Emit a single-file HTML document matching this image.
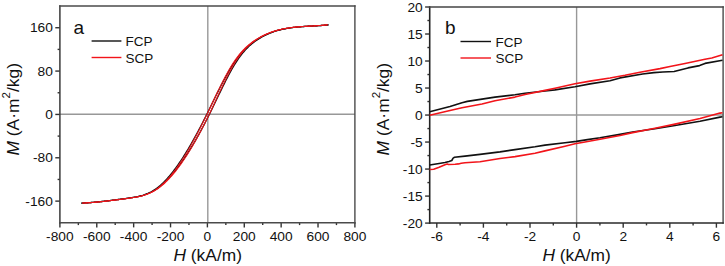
<!DOCTYPE html>
<html><head><meta charset="utf-8"><style>
html,body{margin:0;padding:0;background:#fff;}
svg{display:block;}
text{font-family:"Liberation Sans", sans-serif;fill:#111;}
.tk{font-size:13.5px;}
.lg{font-size:13.5px;}
.pl{font-size:19px;}
.tt{font-size:16px;}
</style></head><body>
<svg width="725" height="266" viewBox="0 0 725 266">
<rect width="725" height="266" fill="#fff"/>
<line x1="59.90" y1="114.20" x2="354.90" y2="114.20" stroke="#989898" stroke-width="1.4"/>
<line x1="207.80" y1="6.05" x2="207.80" y2="222.80" stroke="#989898" stroke-width="1.4"/>
<line x1="59.90" y1="222.80" x2="59.90" y2="227.40" stroke="#333" stroke-width="1.4"/>
<line x1="96.78" y1="222.80" x2="96.78" y2="227.40" stroke="#333" stroke-width="1.4"/>
<line x1="133.65" y1="222.80" x2="133.65" y2="227.40" stroke="#333" stroke-width="1.4"/>
<line x1="170.53" y1="222.80" x2="170.53" y2="227.40" stroke="#333" stroke-width="1.4"/>
<line x1="207.40" y1="222.80" x2="207.40" y2="227.40" stroke="#333" stroke-width="1.4"/>
<line x1="244.28" y1="222.80" x2="244.28" y2="227.40" stroke="#333" stroke-width="1.4"/>
<line x1="281.15" y1="222.80" x2="281.15" y2="227.40" stroke="#333" stroke-width="1.4"/>
<line x1="318.02" y1="222.80" x2="318.02" y2="227.40" stroke="#333" stroke-width="1.4"/>
<line x1="354.90" y1="222.80" x2="354.90" y2="227.40" stroke="#333" stroke-width="1.4"/>
<line x1="78.34" y1="222.80" x2="78.34" y2="225.10" stroke="#333" stroke-width="1.4"/>
<line x1="115.21" y1="222.80" x2="115.21" y2="225.10" stroke="#333" stroke-width="1.4"/>
<line x1="152.09" y1="222.80" x2="152.09" y2="225.10" stroke="#333" stroke-width="1.4"/>
<line x1="188.96" y1="222.80" x2="188.96" y2="225.10" stroke="#333" stroke-width="1.4"/>
<line x1="225.84" y1="222.80" x2="225.84" y2="225.10" stroke="#333" stroke-width="1.4"/>
<line x1="262.71" y1="222.80" x2="262.71" y2="225.10" stroke="#333" stroke-width="1.4"/>
<line x1="299.59" y1="222.80" x2="299.59" y2="225.10" stroke="#333" stroke-width="1.4"/>
<line x1="336.46" y1="222.80" x2="336.46" y2="225.10" stroke="#333" stroke-width="1.4"/>
<line x1="55.30" y1="27.73" x2="59.90" y2="27.73" stroke="#333" stroke-width="1.4"/>
<line x1="55.30" y1="71.08" x2="59.90" y2="71.08" stroke="#333" stroke-width="1.4"/>
<line x1="55.30" y1="114.43" x2="59.90" y2="114.43" stroke="#333" stroke-width="1.4"/>
<line x1="55.30" y1="157.78" x2="59.90" y2="157.78" stroke="#333" stroke-width="1.4"/>
<line x1="55.30" y1="201.12" x2="59.90" y2="201.12" stroke="#333" stroke-width="1.4"/>
<line x1="57.60" y1="49.40" x2="59.90" y2="49.40" stroke="#333" stroke-width="1.4"/>
<line x1="57.60" y1="92.75" x2="59.90" y2="92.75" stroke="#333" stroke-width="1.4"/>
<line x1="57.60" y1="136.10" x2="59.90" y2="136.10" stroke="#333" stroke-width="1.4"/>
<line x1="57.60" y1="179.45" x2="59.90" y2="179.45" stroke="#333" stroke-width="1.4"/>
<line x1="59.90" y1="5.35" x2="59.90" y2="223.50" stroke="#3a3a3a" stroke-width="1.5"/>
<line x1="354.90" y1="5.35" x2="354.90" y2="223.50" stroke="#4a4a4a" stroke-width="1.4"/>
<line x1="59.20" y1="6.05" x2="355.60" y2="6.05" stroke="#4a4a4a" stroke-width="1.4"/>
<line x1="59.20" y1="222.80" x2="355.60" y2="222.80" stroke="#4a4a4a" stroke-width="1.4"/>
<text transform="translate(59.90,240.80) scale(1.02,1)" text-anchor="middle" class="tk">-800</text>
<text transform="translate(96.78,240.80) scale(1.02,1)" text-anchor="middle" class="tk">-600</text>
<text transform="translate(133.65,240.80) scale(1.02,1)" text-anchor="middle" class="tk">-400</text>
<text transform="translate(170.53,240.80) scale(1.02,1)" text-anchor="middle" class="tk">-200</text>
<text transform="translate(207.40,240.80) scale(1.02,1)" text-anchor="middle" class="tk">0</text>
<text transform="translate(244.28,240.80) scale(1.02,1)" text-anchor="middle" class="tk">200</text>
<text transform="translate(281.15,240.80) scale(1.02,1)" text-anchor="middle" class="tk">400</text>
<text transform="translate(318.02,240.80) scale(1.02,1)" text-anchor="middle" class="tk">600</text>
<text transform="translate(354.90,240.80) scale(1.02,1)" text-anchor="middle" class="tk">800</text>
<text transform="translate(52.90,32.23) scale(1.02,1)" text-anchor="end" class="tk">160</text>
<text transform="translate(52.90,75.58) scale(1.02,1)" text-anchor="end" class="tk">80</text>
<text transform="translate(52.90,118.93) scale(1.02,1)" text-anchor="end" class="tk">0</text>
<text transform="translate(52.90,162.28) scale(1.02,1)" text-anchor="end" class="tk">-80</text>
<text transform="translate(52.90,205.62) scale(1.02,1)" text-anchor="end" class="tk">-160</text>
<path d="M81.14,203.11 L81.96,203.07 L82.78,203.03 L83.60,202.99 L84.42,202.94 L85.24,202.89 L86.06,202.84 L86.88,202.79 L87.70,202.74 L88.52,202.68 L89.34,202.62 L90.16,202.56 L90.98,202.49 L91.81,202.43 L92.63,202.36 L93.45,202.29 L94.27,202.22 L95.09,202.14 L95.91,202.07 L96.73,201.99 L97.55,201.91 L98.37,201.83 L99.19,201.75 L100.01,201.67 L100.83,201.58 L101.65,201.49 L102.47,201.40 L103.29,201.31 L104.11,201.22 L104.93,201.13 L105.75,201.04 L106.57,200.94 L107.39,200.84 L108.21,200.75 L109.03,200.65 L109.85,200.55 L110.67,200.45 L111.49,200.35 L112.32,200.24 L113.14,200.14 L113.96,200.04 L114.78,199.93 L115.60,199.83 L116.42,199.72 L117.24,199.61 L118.06,199.51 L118.88,199.40 L119.70,199.29 L120.52,199.18 L121.34,199.07 L122.16,198.96 L122.98,198.85 L123.80,198.74 L124.62,198.63 L125.44,198.52 L126.26,198.41 L127.08,198.30 L127.90,198.19 L128.72,198.08 L129.54,197.96 L130.36,197.85 L131.18,197.73 L132.00,197.60 L132.83,197.47 L133.65,197.33 L134.47,197.19 L135.29,197.04 L136.11,196.89 L136.93,196.72 L137.75,196.55 L138.57,196.36 L139.39,196.17 L140.21,195.97 L141.03,195.75 L141.85,195.52 L142.67,195.28 L143.49,195.02 L144.31,194.75 L145.12,194.46 L145.94,194.16 L146.75,193.84 L147.56,193.50 L148.37,193.15 L149.18,192.77 L149.99,192.38 L150.80,191.97 L151.61,191.53 L152.42,191.08 L153.23,190.60 L154.04,190.10 L154.85,189.58 L155.65,189.03 L156.46,188.45 L157.27,187.85 L158.07,187.23 L158.88,186.59 L159.68,185.92 L160.49,185.22 L161.29,184.50 L162.09,183.76 L162.90,183.00 L163.70,182.21 L164.50,181.40 L165.31,180.57 L166.11,179.71 L166.91,178.83 L167.71,177.94 L168.51,177.01 L169.32,176.07 L170.12,175.11 L170.92,174.12 L171.74,173.12 L172.55,172.09 L173.37,171.05 L174.19,169.98 L175.01,168.89 L175.82,167.79 L176.64,166.66 L177.46,165.52 L178.28,164.35 L179.10,163.17 L179.92,161.97 L180.74,160.75 L181.56,159.51 L182.38,158.25 L183.20,156.98 L184.02,155.68 L184.85,154.37 L185.67,153.05 L186.50,151.70 L187.32,150.34 L188.15,148.96 L188.97,147.57 L189.80,146.16 L190.63,144.73 L191.45,143.29 L192.28,141.83 L193.11,140.36 L193.94,138.87 L194.78,137.37 L195.61,135.85 L196.44,134.32 L197.27,132.77 L198.11,131.21 L198.95,129.63 L199.78,128.04 L200.62,126.44 L201.46,124.83 L202.30,123.20 L203.14,121.56 L203.98,119.90 L204.82,118.24 L205.67,116.56 L206.51,114.87 L207.36,113.17 L208.21,111.45 L209.05,109.73 L209.90,108.00 L210.75,106.27 L211.61,104.53 L212.46,102.78 L213.31,101.04 L214.17,99.29 L215.02,97.55 L215.88,95.81 L216.74,94.08 L217.59,92.35 L218.45,90.63 L219.31,88.92 L220.17,87.22 L221.03,85.53 L221.89,83.86 L222.76,82.20 L223.62,80.56 L224.48,78.94 L225.34,77.34 L226.21,75.76 L227.07,74.21 L227.93,72.68 L228.80,71.18 L229.66,69.70 L230.52,68.25 L231.39,66.84 L232.25,65.46 L233.11,64.11 L233.97,62.80 L234.83,61.53 L235.69,60.29 L236.55,59.10 L237.41,57.94 L238.27,56.82 L239.13,55.73 L239.98,54.68 L240.83,53.66 L241.67,52.68 L242.51,51.72 L243.35,50.80 L244.18,49.91 L245.02,49.05 L245.86,48.22 L246.70,47.42 L247.54,46.64 L248.37,45.89 L249.21,45.17 L250.04,44.47 L250.88,43.79 L251.72,43.14 L252.55,42.51 L253.38,41.89 L254.22,41.30 L255.05,40.73 L255.89,40.18 L256.72,39.64 L257.55,39.12 L258.39,38.62 L259.22,38.13 L260.05,37.65 L260.88,37.19 L261.71,36.74 L262.54,36.30 L263.38,35.88 L264.21,35.47 L265.04,35.08 L265.87,34.69 L266.70,34.32 L267.53,33.96 L268.35,33.61 L269.17,33.27 L269.99,32.94 L270.81,32.63 L271.63,32.32 L272.45,32.03 L273.27,31.75 L274.09,31.47 L274.91,31.21 L275.73,30.96 L276.55,30.71 L277.38,30.48 L278.20,30.25 L279.02,30.03 L279.84,29.82 L280.66,29.62 L281.48,29.43 L282.30,29.25 L283.12,29.07 L283.94,28.90 L284.76,28.74 L285.58,28.59 L286.40,28.44 L287.22,28.30 L288.04,28.16 L288.86,28.03 L289.68,27.91 L290.50,27.79 L291.32,27.68 L292.14,27.58 L292.96,27.47 L293.78,27.38 L294.60,27.29 L295.42,27.20 L296.24,27.12 L297.06,27.04 L297.89,26.96 L298.71,26.89 L299.53,26.82 L300.35,26.76 L301.17,26.69 L301.99,26.63 L302.81,26.58 L303.63,26.52 L304.45,26.47 L305.27,26.42 L306.09,26.37 L306.91,26.32 L307.73,26.27 L308.55,26.23 L309.37,26.18 L310.19,26.13 L311.01,26.09 L311.83,26.04 L312.65,26.00 L313.47,25.95 L314.29,25.91 L315.11,25.86 L315.93,25.81 L316.75,25.76 L317.57,25.71 L318.40,25.66 L319.22,25.60 L320.04,25.54 L320.86,25.48 L321.68,25.42 L322.50,25.36 L323.32,25.29 L324.14,25.22 L324.96,25.14 L325.78,25.06 L326.60,24.98 L327.42,24.89 L328.24,24.80" fill="none" stroke="#111" stroke-width="1.3" stroke-linejoin="round"/><path d="M81.66,203.11 L82.48,203.07 L83.30,203.03 L84.12,202.99 L84.94,202.94 L85.76,202.89 L86.58,202.84 L87.40,202.79 L88.22,202.74 L89.04,202.68 L89.86,202.62 L90.68,202.56 L91.50,202.49 L92.33,202.43 L93.15,202.36 L93.97,202.29 L94.79,202.22 L95.61,202.14 L96.43,202.07 L97.25,201.99 L98.07,201.91 L98.89,201.83 L99.71,201.75 L100.53,201.67 L101.35,201.58 L102.17,201.49 L102.99,201.40 L103.81,201.31 L104.63,201.22 L105.45,201.13 L106.27,201.04 L107.09,200.94 L107.91,200.84 L108.73,200.75 L109.55,200.65 L110.37,200.55 L111.19,200.45 L112.01,200.35 L112.84,200.24 L113.66,200.14 L114.48,200.04 L115.30,199.93 L116.12,199.83 L116.94,199.72 L117.76,199.61 L118.58,199.51 L119.40,199.40 L120.22,199.29 L121.04,199.18 L121.86,199.07 L122.68,198.96 L123.50,198.85 L124.32,198.74 L125.14,198.63 L125.96,198.52 L126.78,198.41 L127.60,198.30 L128.42,198.19 L129.24,198.08 L130.06,197.96 L130.88,197.85 L131.70,197.73 L132.52,197.60 L133.35,197.47 L134.17,197.33 L134.99,197.19 L135.81,197.04 L136.63,196.89 L137.45,196.72 L138.27,196.55 L139.09,196.36 L139.91,196.17 L140.73,195.97 L141.55,195.75 L142.37,195.52 L143.19,195.28 L144.01,195.02 L144.83,194.75 L145.66,194.46 L146.49,194.16 L147.32,193.84 L148.15,193.50 L148.98,193.15 L149.80,192.77 L150.64,192.38 L151.47,191.97 L152.30,191.53 L153.13,191.08 L153.96,190.60 L154.79,190.10 L155.63,189.58 L156.46,189.03 L157.29,188.45 L158.13,187.85 L158.96,187.23 L159.80,186.59 L160.64,185.92 L161.47,185.22 L162.31,184.50 L163.15,183.76 L163.98,183.00 L164.82,182.21 L165.66,181.40 L166.50,180.57 L167.34,179.71 L168.17,178.83 L169.01,177.94 L169.85,177.01 L170.69,176.07 L171.53,175.11 L172.37,174.12 L173.23,173.12 L174.08,172.09 L174.94,171.05 L175.79,169.98 L176.65,168.89 L177.51,167.79 L178.36,166.66 L179.22,165.52 L180.07,164.35 L180.93,163.17 L181.79,161.97 L182.65,160.75 L183.50,159.51 L184.36,158.25 L185.22,156.98 L186.07,155.68 L186.93,154.37 L187.79,153.05 L188.65,151.70 L189.50,150.34 L190.36,148.96 L191.22,147.57 L192.07,146.16 L192.93,144.73 L193.78,143.29 L194.64,141.83 L195.50,140.36 L196.35,138.87 L197.20,137.37 L198.06,135.85 L198.91,134.32 L199.77,132.77 L200.62,131.21 L201.47,129.63 L202.32,128.04 L203.17,126.44 L204.02,124.83 L204.87,123.20 L205.72,121.56 L206.57,119.90 L207.42,118.24 L208.27,116.56 L209.11,114.87 L209.96,113.17 L210.80,111.45 L211.65,109.73 L212.49,108.00 L213.33,106.27 L214.18,104.53 L215.02,102.78 L215.86,101.04 L216.69,99.29 L217.53,97.55 L218.37,95.81 L219.20,94.08 L220.04,92.35 L220.87,90.63 L221.70,88.92 L222.54,87.22 L223.37,85.53 L224.20,83.86 L225.03,82.20 L225.85,80.56 L226.68,78.94 L227.51,77.34 L228.33,75.76 L229.15,74.21 L229.98,72.68 L230.80,71.18 L231.62,69.70 L232.44,68.25 L233.26,66.84 L234.08,65.46 L234.90,64.11 L235.72,62.80 L236.54,61.53 L237.36,60.29 L238.17,59.10 L238.99,57.94 L239.81,56.82 L240.62,55.73 L241.44,54.68 L242.25,53.66 L243.05,52.68 L243.85,51.72 L244.65,50.80 L245.45,49.91 L246.26,49.05 L247.06,48.22 L247.86,47.42 L248.67,46.64 L249.47,45.89 L250.27,45.17 L251.08,44.47 L251.88,43.79 L252.69,43.14 L253.50,42.51 L254.30,41.89 L255.11,41.30 L255.92,40.73 L256.72,40.18 L257.53,39.64 L258.34,39.12 L259.15,38.62 L259.96,38.13 L260.76,37.65 L261.57,37.19 L262.38,36.74 L263.19,36.30 L264.00,35.88 L264.81,35.47 L265.62,35.08 L266.43,34.69 L267.24,34.32 L268.05,33.96 L268.87,33.61 L269.69,33.27 L270.51,32.94 L271.33,32.63 L272.15,32.32 L272.97,32.03 L273.79,31.75 L274.61,31.47 L275.43,31.21 L276.25,30.96 L277.07,30.71 L277.90,30.48 L278.72,30.25 L279.54,30.03 L280.36,29.82 L281.18,29.62 L282.00,29.43 L282.82,29.25 L283.64,29.07 L284.46,28.90 L285.28,28.74 L286.10,28.59 L286.92,28.44 L287.74,28.30 L288.56,28.16 L289.38,28.03 L290.20,27.91 L291.02,27.79 L291.84,27.68 L292.66,27.58 L293.48,27.47 L294.30,27.38 L295.12,27.29 L295.94,27.20 L296.76,27.12 L297.58,27.04 L298.41,26.96 L299.23,26.89 L300.05,26.82 L300.87,26.76 L301.69,26.69 L302.51,26.63 L303.33,26.58 L304.15,26.52 L304.97,26.47 L305.79,26.42 L306.61,26.37 L307.43,26.32 L308.25,26.27 L309.07,26.23 L309.89,26.18 L310.71,26.13 L311.53,26.09 L312.35,26.04 L313.17,26.00 L313.99,25.95 L314.81,25.91 L315.63,25.86 L316.45,25.81 L317.27,25.76 L318.09,25.71 L318.92,25.66 L319.74,25.60 L320.56,25.54 L321.38,25.48 L322.20,25.42 L323.02,25.36 L323.84,25.29 L324.66,25.22 L325.48,25.14 L326.30,25.06 L327.12,24.98 L327.94,24.89 L328.76,24.80" fill="none" stroke="#111" stroke-width="1.3" stroke-linejoin="round"/><path d="M82.07,203.11 L82.89,203.07 L83.71,203.03 L84.53,202.99 L85.35,202.94 L86.17,202.89 L86.99,202.84 L87.81,202.79 L88.63,202.74 L89.45,202.68 L90.27,202.62 L91.09,202.56 L91.91,202.49 L92.74,202.43 L93.56,202.36 L94.38,202.29 L95.20,202.22 L96.02,202.14 L96.84,202.07 L97.66,201.99 L98.48,201.91 L99.30,201.83 L100.12,201.75 L100.94,201.67 L101.76,201.58 L102.58,201.49 L103.40,201.40 L104.22,201.31 L105.04,201.22 L105.86,201.13 L106.68,201.04 L107.50,200.94 L108.32,200.84 L109.14,200.75 L109.96,200.65 L110.78,200.55 L111.60,200.45 L112.42,200.35 L113.25,200.24 L114.07,200.14 L114.89,200.04 L115.71,199.93 L116.53,199.83 L117.35,199.72 L118.17,199.61 L118.99,199.51 L119.81,199.40 L120.63,199.29 L121.45,199.18 L122.27,199.07 L123.09,198.96 L123.91,198.85 L124.73,198.74 L125.55,198.63 L126.37,198.52 L127.19,198.41 L128.01,198.30 L128.83,198.19 L129.65,198.08 L130.47,197.96 L131.29,197.85 L132.11,197.73 L132.93,197.60 L133.76,197.47 L134.58,197.33 L135.40,197.19 L136.22,197.04 L137.04,196.89 L137.86,196.72 L138.68,196.55 L139.50,196.36 L140.32,196.17 L141.14,195.97 L141.96,195.75 L142.78,195.52 L143.60,195.28 L144.42,195.02 L145.24,194.75 L146.05,194.46 L146.87,194.16 L147.68,193.84 L148.49,193.50 L149.31,193.15 L150.12,192.77 L150.93,192.38 L151.74,191.97 L152.55,191.53 L153.36,191.08 L154.17,190.60 L154.98,190.10 L155.79,189.58 L156.60,189.03 L157.41,188.45 L158.22,187.85 L159.02,187.23 L159.83,186.59 L160.64,185.92 L161.44,185.22 L162.25,184.50 L163.05,183.76 L163.86,183.00 L164.67,182.21 L165.47,181.40 L166.27,180.57 L167.08,179.71 L167.88,178.83 L168.69,177.94 L169.49,177.01 L170.30,176.07 L171.10,175.11 L171.90,174.12 L172.71,173.12 L173.51,172.09 L174.31,171.05 L175.12,169.98 L175.92,168.89 L176.72,167.79 L177.53,166.66 L178.33,165.52 L179.13,164.35 L179.94,163.17 L180.74,161.97 L181.55,160.75 L182.35,159.51 L183.15,158.25 L183.96,156.98 L184.76,155.68 L185.57,154.37 L186.37,153.05 L187.18,151.70 L187.99,150.34 L188.79,148.96 L189.60,147.57 L190.41,146.16 L191.22,144.73 L192.02,143.29 L192.83,141.83 L193.64,140.36 L194.45,138.87 L195.26,137.37 L196.07,135.85 L196.88,134.32 L197.70,132.77 L198.51,131.21 L199.32,129.63 L200.14,128.04 L200.95,126.44 L201.76,124.83 L202.58,123.20 L203.40,121.56 L204.21,119.90 L205.03,118.24 L205.85,116.56 L206.67,114.87 L207.49,113.17 L208.31,111.45 L209.14,109.73 L209.96,108.00 L210.78,106.27 L211.61,104.53 L212.43,102.78 L213.26,101.04 L214.09,99.29 L214.92,97.55 L215.74,95.81 L216.57,94.08 L217.41,92.35 L218.24,90.63 L219.07,88.92 L219.90,87.22 L220.74,85.53 L221.57,83.86 L222.41,82.20 L223.24,80.56 L224.08,78.94 L224.91,77.34 L225.75,75.76 L226.59,74.21 L227.43,72.68 L228.27,71.18 L229.10,69.70 L229.94,68.25 L230.78,66.84 L231.62,65.46 L232.46,64.11 L233.30,62.80 L234.14,61.53 L234.98,60.29 L235.82,59.10 L236.66,57.94 L237.50,56.82 L238.33,55.73 L239.17,54.68 L240.01,53.66 L240.85,52.68 L241.68,51.72 L242.52,50.80 L243.36,49.91 L244.19,49.05 L245.03,48.22 L245.87,47.42 L246.70,46.64 L247.54,45.89 L248.37,45.17 L249.20,44.47 L250.04,43.79 L250.87,43.14 L251.70,42.51 L252.54,41.89 L253.37,41.30 L254.20,40.73 L255.03,40.18 L255.87,39.64 L256.70,39.12 L257.53,38.62 L258.36,38.13 L259.19,37.65 L260.02,37.19 L260.85,36.74 L261.68,36.30 L262.51,35.88 L263.34,35.47 L264.17,35.08 L265.00,34.69 L265.83,34.32 L266.66,33.96 L267.48,33.61 L268.30,33.27 L269.12,32.94 L269.94,32.63 L270.76,32.32 L271.58,32.03 L272.40,31.75 L273.22,31.47 L274.04,31.21 L274.86,30.96 L275.68,30.71 L276.51,30.48 L277.33,30.25 L278.15,30.03 L278.97,29.82 L279.79,29.62 L280.61,29.43 L281.43,29.25 L282.25,29.07 L283.07,28.90 L283.89,28.74 L284.71,28.59 L285.53,28.44 L286.35,28.30 L287.17,28.16 L287.99,28.03 L288.81,27.91 L289.63,27.79 L290.45,27.68 L291.27,27.58 L292.09,27.47 L292.91,27.38 L293.73,27.29 L294.55,27.20 L295.37,27.12 L296.19,27.04 L297.02,26.96 L297.84,26.89 L298.66,26.82 L299.48,26.76 L300.30,26.69 L301.12,26.63 L301.94,26.58 L302.76,26.52 L303.58,26.47 L304.40,26.42 L305.22,26.37 L306.04,26.32 L306.86,26.27 L307.68,26.23 L308.50,26.18 L309.32,26.13 L310.14,26.09 L310.96,26.04 L311.78,26.00 L312.60,25.95 L313.42,25.91 L314.24,25.86 L315.06,25.81 L315.88,25.76 L316.70,25.71 L317.53,25.66 L318.35,25.60 L319.17,25.54 L319.99,25.48 L320.81,25.42 L321.63,25.36 L322.45,25.29 L323.27,25.22 L324.09,25.14 L324.91,25.06 L325.73,24.98 L326.55,24.89 L327.37,24.80" fill="none" stroke="#f2141a" stroke-width="1.05" stroke-linejoin="round"/><path d="M82.53,203.11 L83.35,203.07 L84.17,203.03 L84.99,202.99 L85.81,202.94 L86.63,202.89 L87.45,202.84 L88.27,202.79 L89.09,202.74 L89.91,202.68 L90.73,202.62 L91.55,202.56 L92.37,202.49 L93.20,202.43 L94.02,202.36 L94.84,202.29 L95.66,202.22 L96.48,202.14 L97.30,202.07 L98.12,201.99 L98.94,201.91 L99.76,201.83 L100.58,201.75 L101.40,201.67 L102.22,201.58 L103.04,201.49 L103.86,201.40 L104.68,201.31 L105.50,201.22 L106.32,201.13 L107.14,201.04 L107.96,200.94 L108.78,200.84 L109.60,200.75 L110.42,200.65 L111.24,200.55 L112.06,200.45 L112.88,200.35 L113.71,200.24 L114.53,200.14 L115.35,200.04 L116.17,199.93 L116.99,199.83 L117.81,199.72 L118.63,199.61 L119.45,199.51 L120.27,199.40 L121.09,199.29 L121.91,199.18 L122.73,199.07 L123.55,198.96 L124.37,198.85 L125.19,198.74 L126.01,198.63 L126.83,198.52 L127.65,198.41 L128.47,198.30 L129.29,198.19 L130.11,198.08 L130.93,197.96 L131.75,197.85 L132.57,197.73 L133.39,197.60 L134.22,197.47 L135.04,197.33 L135.86,197.19 L136.68,197.04 L137.50,196.89 L138.32,196.72 L139.14,196.55 L139.96,196.36 L140.78,196.17 L141.60,195.97 L142.42,195.75 L143.24,195.52 L144.06,195.28 L144.88,195.02 L145.70,194.75 L146.53,194.46 L147.36,194.16 L148.18,193.84 L149.01,193.50 L149.84,193.15 L150.67,192.77 L151.50,192.38 L152.33,191.97 L153.16,191.53 L153.99,191.08 L154.82,190.60 L155.65,190.10 L156.48,189.58 L157.31,189.03 L158.15,188.45 L158.98,187.85 L159.81,187.23 L160.65,186.59 L161.48,185.92 L162.31,185.22 L163.15,184.50 L163.98,183.76 L164.82,183.00 L165.66,182.21 L166.49,181.40 L167.33,180.57 L168.16,179.71 L169.00,178.83 L169.84,177.94 L170.67,177.01 L171.51,176.07 L172.35,175.11 L173.19,174.12 L174.02,173.12 L174.86,172.09 L175.70,171.05 L176.54,169.98 L177.37,168.89 L178.21,167.79 L179.05,166.66 L179.88,165.52 L180.72,164.35 L181.56,163.17 L182.40,161.97 L183.23,160.75 L184.07,159.51 L184.91,158.25 L185.74,156.98 L186.58,155.68 L187.41,154.37 L188.25,153.05 L189.08,151.70 L189.92,150.34 L190.75,148.96 L191.59,147.57 L192.42,146.16 L193.25,144.73 L194.08,143.29 L194.92,141.83 L195.75,140.36 L196.58,138.87 L197.41,137.37 L198.24,135.85 L199.07,134.32 L199.90,132.77 L200.73,131.21 L201.55,129.63 L202.38,128.04 L203.21,126.44 L204.03,124.83 L204.86,123.20 L205.68,121.56 L206.51,119.90 L207.33,118.24 L208.15,116.56 L208.97,114.87 L209.79,113.17 L210.61,111.45 L211.43,109.73 L212.25,108.00 L213.06,106.27 L213.88,104.53 L214.70,102.78 L215.51,101.04 L216.32,99.29 L217.14,97.55 L217.95,95.81 L218.76,94.08 L219.57,92.35 L220.38,90.63 L221.19,88.92 L221.99,87.22 L222.80,85.53 L223.61,83.86 L224.41,82.20 L225.22,80.56 L226.02,78.94 L226.83,77.34 L227.63,75.76 L228.43,74.21 L229.24,72.68 L230.04,71.18 L230.84,69.70 L231.64,68.25 L232.44,66.84 L233.24,65.46 L234.05,64.11 L234.85,62.80 L235.65,61.53 L236.45,60.29 L237.25,59.10 L238.05,57.94 L238.86,56.82 L239.66,55.73 L240.46,54.68 L241.27,53.66 L242.07,52.68 L242.87,51.72 L243.68,50.80 L244.48,49.91 L245.29,49.05 L246.09,48.22 L246.90,47.42 L247.70,46.64 L248.51,45.89 L249.31,45.17 L250.12,44.47 L250.93,43.79 L251.73,43.14 L252.54,42.51 L253.35,41.89 L254.16,41.30 L254.97,40.73 L255.77,40.18 L256.58,39.64 L257.39,39.12 L258.20,38.62 L259.01,38.13 L259.82,37.65 L260.63,37.19 L261.44,36.74 L262.25,36.30 L263.07,35.88 L263.88,35.47 L264.69,35.08 L265.50,34.69 L266.31,34.32 L267.12,33.96 L267.94,33.61 L268.76,33.27 L269.58,32.94 L270.40,32.63 L271.22,32.32 L272.04,32.03 L272.86,31.75 L273.68,31.47 L274.50,31.21 L275.32,30.96 L276.14,30.71 L276.97,30.48 L277.79,30.25 L278.61,30.03 L279.43,29.82 L280.25,29.62 L281.07,29.43 L281.89,29.25 L282.71,29.07 L283.53,28.90 L284.35,28.74 L285.17,28.59 L285.99,28.44 L286.81,28.30 L287.63,28.16 L288.45,28.03 L289.27,27.91 L290.09,27.79 L290.91,27.68 L291.73,27.58 L292.55,27.47 L293.37,27.38 L294.19,27.29 L295.01,27.20 L295.83,27.12 L296.65,27.04 L297.48,26.96 L298.30,26.89 L299.12,26.82 L299.94,26.76 L300.76,26.69 L301.58,26.63 L302.40,26.58 L303.22,26.52 L304.04,26.47 L304.86,26.42 L305.68,26.37 L306.50,26.32 L307.32,26.27 L308.14,26.23 L308.96,26.18 L309.78,26.13 L310.60,26.09 L311.42,26.04 L312.24,26.00 L313.06,25.95 L313.88,25.91 L314.70,25.86 L315.52,25.81 L316.34,25.76 L317.16,25.71 L317.99,25.66 L318.81,25.60 L319.63,25.54 L320.45,25.48 L321.27,25.42 L322.09,25.36 L322.91,25.29 L323.73,25.22 L324.55,25.14 L325.37,25.06 L326.19,24.98 L327.01,24.89 L327.83,24.80" fill="none" stroke="#f2141a" stroke-width="1.05" stroke-linejoin="round"/>

<text x="73.5" y="33.5" class="pl">a</text>
<line x1="91.6" y1="41" x2="121.4" y2="41" stroke="#111" stroke-width="1.4"/>
<line x1="91.6" y1="57.5" x2="121.4" y2="57.5" stroke="#f2141a" stroke-width="1.4"/>
<text x="125.5" y="46" class="lg">FCP</text>
<text x="125.5" y="62.5" class="lg">SCP</text>
<text transform="translate(19.3,109.3) rotate(-90) scale(1.09,1)" text-anchor="middle" class="tt"><tspan font-style="italic">M</tspan> (A·m<tspan dy="-9" font-size="10.5">2</tspan><tspan dy="9">/kg)</tspan></text>
<text transform="translate(207.7,260.5) scale(1.085,1)" text-anchor="middle" class="tt"><tspan font-style="italic">H</tspan> (kA/m)</text>
<line x1="429.70" y1="115.00" x2="723.10" y2="115.00" stroke="#989898" stroke-width="1.4"/>
<line x1="576.60" y1="7.00" x2="576.60" y2="223.10" stroke="#989898" stroke-width="1.4"/>
<line x1="436.80" y1="223.10" x2="436.80" y2="227.70" stroke="#333" stroke-width="1.4"/>
<line x1="483.40" y1="223.10" x2="483.40" y2="227.70" stroke="#333" stroke-width="1.4"/>
<line x1="530.00" y1="223.10" x2="530.00" y2="227.70" stroke="#333" stroke-width="1.4"/>
<line x1="576.60" y1="223.10" x2="576.60" y2="227.70" stroke="#333" stroke-width="1.4"/>
<line x1="623.20" y1="223.10" x2="623.20" y2="227.70" stroke="#333" stroke-width="1.4"/>
<line x1="669.80" y1="223.10" x2="669.80" y2="227.70" stroke="#333" stroke-width="1.4"/>
<line x1="716.40" y1="223.10" x2="716.40" y2="227.70" stroke="#333" stroke-width="1.4"/>
<line x1="460.10" y1="223.10" x2="460.10" y2="225.40" stroke="#333" stroke-width="1.4"/>
<line x1="506.70" y1="223.10" x2="506.70" y2="225.40" stroke="#333" stroke-width="1.4"/>
<line x1="553.30" y1="223.10" x2="553.30" y2="225.40" stroke="#333" stroke-width="1.4"/>
<line x1="599.90" y1="223.10" x2="599.90" y2="225.40" stroke="#333" stroke-width="1.4"/>
<line x1="646.50" y1="223.10" x2="646.50" y2="225.40" stroke="#333" stroke-width="1.4"/>
<line x1="693.10" y1="223.10" x2="693.10" y2="225.40" stroke="#333" stroke-width="1.4"/>
<line x1="425.10" y1="7.00" x2="429.70" y2="7.00" stroke="#333" stroke-width="1.4"/>
<line x1="425.10" y1="34.01" x2="429.70" y2="34.01" stroke="#333" stroke-width="1.4"/>
<line x1="425.10" y1="61.02" x2="429.70" y2="61.02" stroke="#333" stroke-width="1.4"/>
<line x1="425.10" y1="88.04" x2="429.70" y2="88.04" stroke="#333" stroke-width="1.4"/>
<line x1="425.10" y1="115.05" x2="429.70" y2="115.05" stroke="#333" stroke-width="1.4"/>
<line x1="425.10" y1="142.06" x2="429.70" y2="142.06" stroke="#333" stroke-width="1.4"/>
<line x1="425.10" y1="169.07" x2="429.70" y2="169.07" stroke="#333" stroke-width="1.4"/>
<line x1="425.10" y1="196.09" x2="429.70" y2="196.09" stroke="#333" stroke-width="1.4"/>
<line x1="425.10" y1="223.10" x2="429.70" y2="223.10" stroke="#333" stroke-width="1.4"/>
<line x1="427.40" y1="20.51" x2="429.70" y2="20.51" stroke="#333" stroke-width="1.4"/>
<line x1="427.40" y1="47.52" x2="429.70" y2="47.52" stroke="#333" stroke-width="1.4"/>
<line x1="427.40" y1="74.53" x2="429.70" y2="74.53" stroke="#333" stroke-width="1.4"/>
<line x1="427.40" y1="101.54" x2="429.70" y2="101.54" stroke="#333" stroke-width="1.4"/>
<line x1="427.40" y1="128.56" x2="429.70" y2="128.56" stroke="#333" stroke-width="1.4"/>
<line x1="427.40" y1="155.57" x2="429.70" y2="155.57" stroke="#333" stroke-width="1.4"/>
<line x1="427.40" y1="182.58" x2="429.70" y2="182.58" stroke="#333" stroke-width="1.4"/>
<line x1="427.40" y1="209.59" x2="429.70" y2="209.59" stroke="#333" stroke-width="1.4"/>
<line x1="429.70" y1="6.30" x2="429.70" y2="223.80" stroke="#222" stroke-width="1.6"/>
<line x1="723.10" y1="6.30" x2="723.10" y2="223.80" stroke="#4a4a4a" stroke-width="1.4"/>
<line x1="429.00" y1="7.00" x2="723.80" y2="7.00" stroke="#444" stroke-width="1.4"/>
<line x1="429.00" y1="223.10" x2="723.80" y2="223.10" stroke="#2a2a2a" stroke-width="1.5"/>
<text transform="translate(436.80,241.10) scale(1.02,1)" text-anchor="middle" class="tk">-6</text>
<text transform="translate(483.40,241.10) scale(1.02,1)" text-anchor="middle" class="tk">-4</text>
<text transform="translate(530.00,241.10) scale(1.02,1)" text-anchor="middle" class="tk">-2</text>
<text transform="translate(576.60,241.10) scale(1.02,1)" text-anchor="middle" class="tk">0</text>
<text transform="translate(623.20,241.10) scale(1.02,1)" text-anchor="middle" class="tk">2</text>
<text transform="translate(669.80,241.10) scale(1.02,1)" text-anchor="middle" class="tk">4</text>
<text transform="translate(716.40,241.10) scale(1.02,1)" text-anchor="middle" class="tk">6</text>
<text transform="translate(422.70,11.50) scale(1.02,1)" text-anchor="end" class="tk">20</text>
<text transform="translate(422.70,38.51) scale(1.02,1)" text-anchor="end" class="tk">15</text>
<text transform="translate(422.70,65.53) scale(1.02,1)" text-anchor="end" class="tk">10</text>
<text transform="translate(422.70,92.54) scale(1.02,1)" text-anchor="end" class="tk">5</text>
<text transform="translate(422.70,119.55) scale(1.02,1)" text-anchor="end" class="tk">0</text>
<text transform="translate(422.70,146.56) scale(1.02,1)" text-anchor="end" class="tk">-5</text>
<text transform="translate(422.70,173.57) scale(1.02,1)" text-anchor="end" class="tk">-10</text>
<text transform="translate(422.70,200.59) scale(1.02,1)" text-anchor="end" class="tk">-15</text>
<text transform="translate(422.70,227.60) scale(1.02,1)" text-anchor="end" class="tk">-20</text>
<path d="M429.7,111.8 L450.0,106.4 L462.0,102.7 L467.3,101.4 L482.0,99.1 L495.0,97.1 L515.0,94.8 L525.0,93.2 L545.0,91.0 L555.0,89.9 L575.0,86.8 L590.0,83.9 L610.0,80.8 L620.0,77.9 L642.6,74.0 L653.9,72.6 L662.9,72.0 L674.1,71.5 L688.0,67.9 L699.6,65.6 L705.0,63.4 L722.5,60.2" fill="none" stroke="#111" stroke-width="1.6" stroke-linejoin="round"/><path d="M429.7,165.0 L439.1,163.5 L445.0,162.5 L449.0,161.5 L451.8,160.5 L453.1,158.1 L454.5,157.3 L465.0,156.1 L480.0,154.4 L500.0,151.9 L515.0,149.6 L535.0,146.8 L545.0,145.1 L565.0,142.8 L576.4,141.4 L587.5,139.6 L600.0,137.8 L620.0,134.4 L632.6,132.0 L655.0,128.8 L675.0,125.5 L700.0,121.2 L720.0,117.1 L722.5,116.8" fill="none" stroke="#111" stroke-width="1.6" stroke-linejoin="round"/><path d="M429.7,115.3 L450.0,110.5 L462.0,107.8 L482.0,104.0 L495.0,100.8 L515.0,97.1 L525.0,94.5 L545.0,90.4 L555.0,88.2 L575.0,83.8 L590.0,81.1 L610.0,78.0 L625.0,75.3 L640.0,72.2 L660.0,68.6 L670.0,66.5 L685.0,63.5 L705.0,59.2 L711.8,58.0 L722.5,54.8" fill="none" stroke="#f2141a" stroke-width="1.6" stroke-linejoin="round"/><path d="M429.7,169.5 L433.7,169.2 L439.1,167.2 L445.0,164.8 L447.2,164.1 L448.4,164.5 L455.1,164.2 L458.5,163.9 L461.2,163.2 L465.0,162.7 L480.0,161.7 L500.0,158.5 L515.0,156.6 L535.0,153.2 L545.0,150.9 L565.0,146.2 L575.0,143.7 L585.0,142.0 L600.0,139.2 L620.0,135.5 L632.6,132.6 L655.0,128.2 L675.0,124.1 L700.0,118.5 L720.0,113.1 L722.5,112.7" fill="none" stroke="#f2141a" stroke-width="1.6" stroke-linejoin="round"/>

<text x="445" y="33.5" class="pl">b</text>
<line x1="460.5" y1="41.5" x2="491" y2="41.5" stroke="#111" stroke-width="1.4"/>
<line x1="460.5" y1="58" x2="491" y2="58" stroke="#f2141a" stroke-width="1.4"/>
<text x="495.5" y="46.5" class="lg">FCP</text>
<text x="495.5" y="63" class="lg">SCP</text>
<text transform="translate(389.3,109.2) rotate(-90) scale(1.09,1)" text-anchor="middle" class="tt"><tspan font-style="italic">M</tspan> (A·m<tspan dy="-9" font-size="10.5">2</tspan><tspan dy="9">/kg)</tspan></text>
<text transform="translate(576.6,260.5) scale(1.085,1)" text-anchor="middle" class="tt"><tspan font-style="italic">H</tspan> (kA/m)</text>
</svg>
</body></html>
